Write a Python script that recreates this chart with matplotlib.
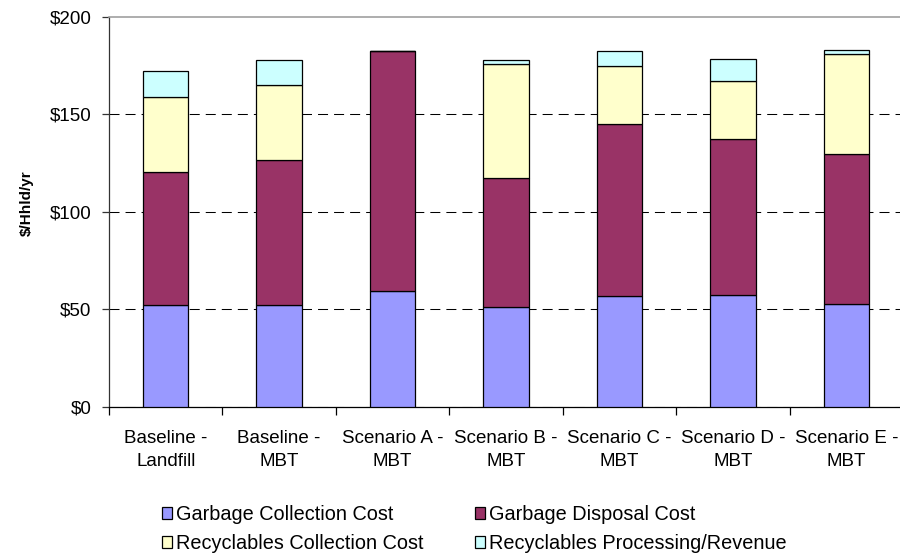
import matplotlib
matplotlib.use("Agg")
import matplotlib.pyplot as plt
from matplotlib.patches import Patch

plt.rcParams["font.family"] = ["Liberation Sans", "DejaVu Sans"]

# Annual cost per household, by scenario ($/Hhld/yr)
categories = [
    "Baseline -\nLandfill",
    "Baseline -\nMBT",
    "Scenario A -\nMBT",
    "Scenario B -\nMBT",
    "Scenario C -\nMBT",
    "Scenario D -\nMBT",
    "Scenario E -\nMBT",
]
garbage_collection = [52.0, 52.0, 59.6, 51.4, 56.7, 57.4, 52.7]
garbage_disposal = [68.5, 74.7, 122.9, 66.2, 88.3, 80.2, 77.1]
recyclables_collection = [38.2, 38.2, 0.0, 58.4, 29.8, 29.7, 51.0]
recyclables_processing = [13.4, 13.0, 0.0, 1.9, 7.7, 11.4, 2.4]

series_names = [
    "Garbage Collection Cost",
    "Garbage Disposal Cost",
    "Recyclables Collection Cost",
    "Recyclables Processing/Revenue",
]
series_colors = ["#9999FF", "#993366", "#FFFFCC", "#CCFFFF"]
y_ticks = [0, 50, 100, 150, 200]
y_tick_labels = ["$0", "$50", "$100", "$150", "$200"]

fig = plt.figure(figsize=(9.0, 5.54), dpi=100)
W, H = 900, 554
left, right, top, bottom = 109, 903, 17, 406.7
ax = fig.add_axes([left / W, 1 - bottom / H, (right - left) / W, (bottom - top) / H])

x = list(range(len(categories)))
series = [garbage_collection, garbage_disposal, recyclables_collection, recyclables_processing]
base = [0.0] * len(categories)
for vals, name, color in zip(series, series_names, series_colors):
    ax.bar(x, vals, width=0.4, bottom=base, color=color, edgecolor="black",
           linewidth=0.9, label=name, zorder=3)
    base = [b + v for b, v in zip(base, vals)]

ax.set_xlim(-0.5, len(categories) - 0.5)
ax.set_ylim(0, 200)

# category labels centred on bars, tick marks on the boundaries between them
ax.set_xticks(x)
ax.set_xticklabels(categories, fontsize=13.5, linespacing=1.45)
ax.set_xticks([i - 0.5 for i in range(len(categories) + 1)], minor=True)
ax.tick_params(axis="x", which="major", length=0, pad=17)
ax.tick_params(axis="x", which="minor", length=6, width=0.9, color="black", direction="out")

ax.set_yticks(y_ticks)
ax.set_yticklabels(y_tick_labels, fontsize=13.5)
ax.tick_params(axis="y", length=5, width=0.9, color="#333333", pad=7.5)

ax.set_axisbelow(True)
ax.yaxis.grid(True, color="black", linewidth=0.75, linestyle=(0, (9.6, 5.8)))
ax.get_ygridlines()[-1].set_visible(False)
ax.xaxis.grid(False)

ax.spines["right"].set_visible(False)
ax.spines["top"].set_color("#A0A0A0")
ax.spines["top"].set_linewidth(1.2)
ax.spines["left"].set_color("#333333")
ax.spines["left"].set_linewidth(0.9)
ax.spines["bottom"].set_color("black")
ax.spines["bottom"].set_linewidth(0.9)

fig.text(27 / W, 1 - 203 / H, "$/Hhld/yr", rotation=90, ha="center", va="center",
         fontsize=11, fontweight="bold")

handles = [Patch(facecolor=c, edgecolor="black", linewidth=0.9) for c in series_colors]
order = [0, 2, 1, 3]
fig.legend([handles[i] for i in order], [series_names[i] for i in order],
           ncol=2, loc="upper left", bbox_to_anchor=(162 / W, 1 - 505 / H),
           frameon=False, fontsize=14.3, handlelength=0.5, handleheight=0.5,
           handletextpad=0.2, columnspacing=2.6, labelspacing=0.5, borderpad=0,
           borderaxespad=0)

fig.savefig("out.png", dpi=100)
